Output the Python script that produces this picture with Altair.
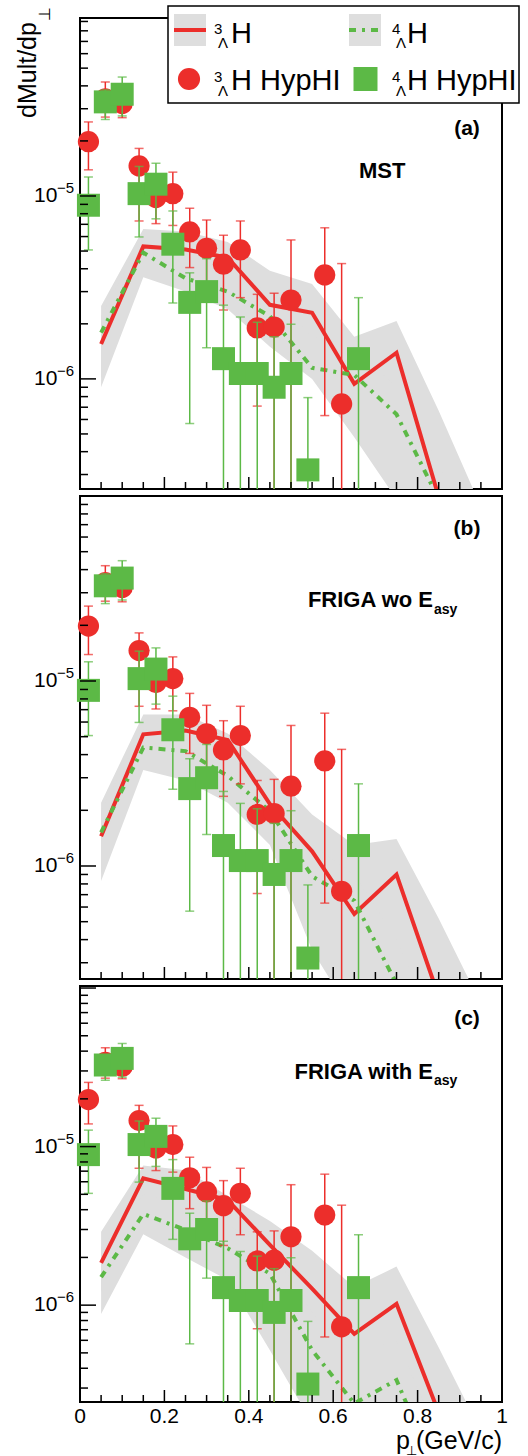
import altair as alt
import pandas as pd

FONT = "Liberation Sans"
RED = "#ec2e2b"
GREEN = "#5cb946"
BAND = "#dedede"

# ---- HypHI measurements (identical in all three panels) ----
h3_x = [0.02, 0.06, 0.10, 0.14, 0.18, 0.22, 0.26, 0.30, 0.34, 0.38, 0.42, 0.46, 0.50, 0.58, 0.62]
h3_y = [1.98e-5, 3.4e-5, 3.2e-5, 1.46e-5, 9.8e-6, 1.03e-5, 6.36e-6, 5.18e-6, 4.24e-6, 5.07e-6,
        1.9e-6, 1.92e-6, 2.7e-6, 3.7e-6, 7.3e-7]
h3_hi = [2.54e-5, 4.2e-5, 4.0e-5, 1.82e-5, 1.3e-5, 1.35e-5, 8.57e-6, 7.39e-6, 6.1e-6, 7.3e-6,
         2.9e-6, 2.94e-6, 5.75e-6, 6.7e-6, 4.27e-6]
h3_lo = [1.39e-5, 2.7e-5, 2.68e-5, 7.3e-6, 7.06e-6, 6.9e-6, 4.06e-6, 3.3e-6, 2.38e-6, 2.78e-6,
         7.1e-7, 1e-8, 1e-8, 6.3e-7, 1e-8]

h4_x = [0.02, 0.06, 0.10, 0.14, 0.18, 0.22, 0.26, 0.30, 0.34, 0.38, 0.42, 0.46, 0.50, 0.54, 0.66]
h4_y = [8.9e-6, 3.27e-5, 3.6e-5, 1.03e-5, 1.16e-5, 5.45e-6, 2.62e-6, 3.0e-6, 1.29e-6, 1.07e-6,
        1.07e-6, 9.0e-7, 1.07e-6, 3.18e-7, 1.29e-6]
h4_hi = [1.27e-5, 3.8e-5, 4.47e-5, 1.45e-5, 1.51e-5, 8.28e-6, 3.8e-6, 4.54e-6, 2.53e-6, 2.18e-6,
         2.04e-6, 1.7e-6, 1.99e-6, 7.9e-7, 2.78e-6]
h4_lo = [5.07e-6, 2.62e-5, 2.74e-5, 5.97e-6, 7.5e-6, 2.6e-6, 5.7e-7, 1.48e-6, 1e-8, 1e-8,
         1e-8, 1e-8, 1e-8, 1e-8, 1e-8]

# ---- model curves ----
model_x = [0.05, 0.15, 0.25, 0.35, 0.45, 0.55, 0.65, 0.75, 0.85]
mst_h3 = [1.55e-6, 5.3e-6, 5.1e-6, 4.6e-6, 2.54e-6, 2.3e-6, 9.4e-7, 1.39e-6, 2.26e-7]
mst_h4 = [1.79e-6, 4.9e-6, 3.55e-6, 3.0e-6, 2.2e-6, 1.15e-6, 1.05e-6, 6.4e-7, 2.2e-7]
fwo_h3 = [1.45e-6, 5.15e-6, 5.4e-6, 4.8e-6, 2.16e-6, 1.2e-6, 5.5e-7, 9.0e-7, 1.97e-7]
fwo_h4 = [1.52e-6, 4.37e-6, 4.18e-6, 3.07e-6, 1.98e-6, 8.8e-7, 6.5e-7, 2.3e-7, 6e-8]
fwi_h3 = [1.85e-6, 6.3e-6, 5.4e-6, 4.6e-6, 2.4e-6, 1.27e-6, 6.6e-7, 1.02e-6, 2.1e-7]
fwi_h4 = [1.5e-6, 3.76e-6, 2.98e-6, 2.28e-6, 1.58e-6, 5.2e-7, 2.4e-7, 3.37e-7, 8e-8]

# ---- model uncertainty bands ----
band_x = [0.05, 0.15, 0.25, 0.35, 0.45, 0.55, 0.65, 0.75, 0.85, 0.95]
mst_h3_hi = [2.5e-6, 6.6e-6, 6.4e-6, 5.6e-6, 3.9e-6, 3.3e-6, 1.7e-6, 2.07e-6, 6.7e-7, 2.0e-7]
mst_h3_lo = [1.0e-6, 4.0e-6, 3.8e-6, 3.4e-6, 1.7e-6, 1.5e-6, 6.0e-7, 6.0e-7, 2.0e-7, 6e-8]
mst_h4_hi = [2.2e-6, 6.0e-6, 4.6e-6, 3.9e-6, 3.0e-6, 1.7e-6, 1.5e-6, 9.0e-7, 3.5e-7, 1.0e-7]
mst_h4_lo = [9.0e-7, 3.6e-6, 3.0e-6, 2.4e-6, 1.5e-6, 1.0e-6, 4.8e-7, 2.2e-7, 6e-8, 2e-8]
fwo_h3_hi = [2.2e-6, 6.6e-6, 6.6e-6, 5.2e-6, 3.3e-6, 1.9e-6, 1.3e-6, 1.4e-6, 5.2e-7, 1.8e-7]
fwo_h3_lo = [9.0e-7, 3.8e-6, 3.7e-6, 3.3e-6, 1.4e-6, 7.0e-7, 2.0e-7, 1.5e-7, 6e-8, 3e-8]
fwo_h4_hi = [2.0e-6, 5.5e-6, 5.0e-6, 4.0e-6, 2.6e-6, 1.3e-6, 9.0e-7, 4.0e-7, 1.2e-7, 4e-8]
fwo_h4_lo = [8.3e-7, 3.3e-6, 2.9e-6, 2.2e-6, 1.3e-6, 3.5e-7, 1.5e-7, 1.0e-7, 3e-8, 1e-8]
fwi_h3_hi = [2.9e-6, 7.6e-6, 7.1e-6, 4.9e-6, 3.4e-6, 2.2e-6, 1.3e-6, 1.75e-6, 5.4e-7, 1.6e-7]
fwi_h3_lo = [1.2e-6, 4.5e-6, 3.8e-6, 3.0e-6, 1.5e-6, 7.0e-7, 3.0e-7, 2.0e-7, 8e-8, 3e-8]
fwi_h4_hi = [2.3e-6, 5.0e-6, 4.2e-6, 3.2e-6, 2.3e-6, 9.0e-7, 5.0e-7, 6.0e-7, 1.5e-7, 4e-8]
fwi_h4_lo = [8.8e-7, 2.8e-6, 2.0e-6, 1.44e-6, 5.2e-7, 1.8e-7, 1.0e-7, 1.2e-7, 3e-8, 1e-8]

# ---- tick values and labels ----
x_major = [0.2, 0.4, 0.6, 0.8]
x_minor = [0.05, 0.1, 0.15, 0.25, 0.3, 0.35, 0.45, 0.5, 0.55, 0.65, 0.7, 0.75, 0.85, 0.9, 0.95]
x_label_vals = [0, 0.2, 0.4, 0.6, 0.8, 1]
x_label_text = ["0", "0.2", "0.4", "0.6", "0.8", "1"]
y_major = [1e-6, 1e-5, 1e-4]
y_minor = [m * d for d in (1e-7, 1e-6, 1e-5) for m in (2, 3, 4, 5, 6, 7, 8, 9)]
y_label_vals = [1e-5, 1e-6]
y_label_base = ["10", "10"]
y_label_exp = ["\u22125", "\u22126"]

x_scale = alt.Scale(domain=[0, 1], nice=False, zero=False)


def X():
    return alt.X("x:Q", scale=x_scale, axis=None)


def txt(s):
    return pd.DataFrame({"t": [s]})


def label(s, x, y, size, weight="normal", align="left", baseline="alphabetic", angle=0):
    return alt.Chart(txt(s)).mark_text(
        font=FONT, fontSize=size, fontWeight=weight, align=align,
        baseline=baseline, angle=angle, color="black"
    ).encode(text="t:N", x=alt.value(x), y=alt.value(y))


def panel(h, ydom, line3, line4, b3lo, b3hi, b4lo, b4hi, tag, tag_y, extra):
    ys = alt.Scale(type="log", domain=ydom, nice=False)

    def Y(f):
        return alt.Y(f + ":Q", scale=ys, axis=None)

    band3 = pd.DataFrame({"x": band_x, "lo": b3lo, "hi": b3hi})
    band4 = pd.DataFrame({"x": band_x, "lo": b4lo, "hi": b4hi})
    l3 = pd.DataFrame({"x": model_x, "y": line3})
    l4 = pd.DataFrame({"x": model_x, "y": line4})
    d3 = pd.DataFrame({"x": h3_x, "y": h3_y, "lo": h3_lo, "hi": h3_hi})
    d4 = pd.DataFrame({"x": h4_x, "y": h4_y, "lo": h4_lo, "hi": h4_hi})

    def caps(d, col, field):
        return alt.Chart(d).mark_tick(color=col, orient="horizontal", size=9, thickness=1.5,
                                      clip=True).encode(x=X(), y=Y(field))

    layers = [
        alt.Chart(band3).mark_area(color=BAND, opacity=1, clip=True).encode(
            x=X(), y=Y("lo"), y2="hi:Q"),
        alt.Chart(band4).mark_area(color=BAND, opacity=1, clip=True).encode(
            x=X(), y=Y("lo"), y2="hi:Q"),
        alt.Chart(l3).mark_line(color=RED, strokeWidth=4, clip=True).encode(x=X(), y=Y("y")),
        alt.Chart(l4).mark_line(color=GREEN, strokeWidth=4, strokeDash=[7, 6, 3, 6],
                                clip=True).encode(x=X(), y=Y("y")),
        # 3-Lambda-H data
        alt.Chart(d3).mark_rule(color=RED, strokeWidth=1.5, clip=True).encode(
            x=X(), y=Y("lo"), y2="hi:Q"),
        caps(d3, RED, "hi"), caps(d3, RED, "lo"),
        alt.Chart(d3).mark_circle(color=RED, size=450, opacity=1).encode(x=X(), y=Y("y")),
        # 4-Lambda-H data
        alt.Chart(d4).mark_rule(color=GREEN, strokeWidth=1.5, clip=True).encode(
            x=X(), y=Y("lo"), y2="hi:Q"),
        caps(d4, GREEN, "hi"), caps(d4, GREEN, "lo"),
        alt.Chart(d4).mark_square(color=GREEN, size=529, opacity=1).encode(x=X(), y=Y("y")),
        # inner ticks
        alt.Chart(pd.DataFrame({"x": x_major})).mark_rule(color="black", strokeWidth=1.5).encode(
            x=X(), y=alt.value(h), y2=alt.value(h - 12)),
        alt.Chart(pd.DataFrame({"x": x_minor})).mark_rule(color="black", strokeWidth=1.5).encode(
            x=X(), y=alt.value(h), y2=alt.value(h - 7)),
        alt.Chart(pd.DataFrame({"v": y_major})).mark_rule(color="black", strokeWidth=1.5,
                                                          clip=True).encode(
            y=Y("v"), x=alt.value(0), x2=alt.value(16)),
        alt.Chart(pd.DataFrame({"v": y_minor})).mark_rule(color="black", strokeWidth=1.5,
                                                          clip=True).encode(
            y=Y("v"), x=alt.value(0), x2=alt.value(8)),
        # decade labels 10^-5, 10^-6
        alt.Chart(pd.DataFrame({"v": y_label_vals, "b": y_label_base})).mark_text(
            font=FONT, fontSize=21, align="left", baseline="middle", color="black").encode(
            text="b:N", y=Y("v"), x=alt.value(-46)),
        alt.Chart(pd.DataFrame({"v": y_label_vals, "e": y_label_exp})).mark_text(
            font=FONT, fontSize=15, align="left", baseline="middle", dy=-8, color="black").encode(
            text="e:N", y=Y("v"), x=alt.value(-23)),
        label(tag, 387, tag_y, 21, weight="bold", align="center", baseline="middle"),
    ]
    layers += extra
    return alt.layer(*layers).properties(width=422, height=h)


# ---- legend, axis titles and model names ----
legend = [
    alt.Chart(txt("")).mark_rect(fill="white", stroke="black", strokeWidth=1.5).encode(
        x=alt.value(88), x2=alt.value(439), y=alt.value(-12), y2=alt.value(85)),
    alt.Chart(txt("")).mark_rect(fill=BAND).encode(
        x=alt.value(94), x2=alt.value(126), y=alt.value(-4), y2=alt.value(28)),
    alt.Chart(txt("")).mark_rect(fill=BAND).encode(
        x=alt.value(269), x2=alt.value(301), y=alt.value(-4), y2=alt.value(28)),
    alt.Chart(txt("")).mark_rule(color=RED, strokeWidth=4).encode(
        x=alt.value(94), x2=alt.value(126), y=alt.value(12)),
    alt.Chart(txt("")).mark_rule(color=GREEN, strokeWidth=4, strokeDash=[7, 6, 3, 6]).encode(
        x=alt.value(269), x2=alt.value(301), y=alt.value(12)),
    alt.Chart(txt("")).mark_circle(color=RED, size=490, opacity=1).encode(
        x=alt.value(109), y=alt.value(61)),
    alt.Chart(txt("")).mark_square(color=GREEN, size=576, opacity=1).encode(
        x=alt.value(285.5), y=alt.value(61)),
    label("3", 134, 16, 15), label("\u039b", 138, 30, 15), label("H", 151, 25, 29),
    label("4", 312, 16, 15), label("\u039b", 316, 30, 15), label("H", 327, 25, 29),
    label("3", 134, 64, 15), label("\u039b", 138, 78, 15), label("H HypHI", 151, 72, 29),
    label("4", 312, 64, 15), label("\u039b", 316, 78, 15), label("H HypHI", 327, 72, 29),
]

ytitle = [
    label("dMult/dp", -44, 100, 25, angle=270),
    label("\u22a5", -30, 3, 16, angle=270),
]

# keeps the page origin fixed to the left and top of the figure
anchor = [
    alt.Chart(txt("")).mark_rule(opacity=0).encode(
        x=alt.value(-79), x2=alt.value(-78), y=alt.value(-17), y2=alt.value(-16)),
]

xlabels = [
    alt.Chart(pd.DataFrame({"x": x_label_vals, "t": x_label_text})).mark_text(
        font=FONT, fontSize=21, align="center", baseline="alphabetic", color="black").encode(
        x=X(), y=alt.value(437), text="t:N"),
    label("(GeV/c)", 422, 463, 25, align="right"),
    label("p", 330, 463, 25, align="right"),
    label("\u22a5", 331, 469, 13, align="center"),
]

pa = panel(471, [2.5e-7, 9.4e-5], mst_h3, mst_h4, mst_h3_lo, mst_h3_hi, mst_h4_lo, mst_h4_hi,
           "(a)", 111,
           [label("MST", 279, 160, 22, weight="bold")] + legend + ytitle + anchor)

pb = panel(483, [2.45e-7, 1.0e-4], fwo_h3, fwo_h4, fwo_h3_lo, fwo_h3_hi, fwo_h4_lo, fwo_h4_hi,
           "(b)", 33,
           [label("FRIGA wo E", 353, 111, 22, weight="bold", align="right"),
            label("asy", 354, 118, 14, weight="bold")])

pc = panel(416, [2.45e-7, 1.03e-4], fwi_h3, fwi_h4, fwi_h3_lo, fwi_h3_hi, fwi_h4_lo, fwi_h4_hi,
           "(c)", 33,
           [label("FRIGA with E", 353, 93, 22, weight="bold", align="right"),
            label("asy", 354, 99, 14, weight="bold")] + xlabels)

chart = alt.vconcat(pa, pb, pc, spacing=4).properties(padding=0).configure_view(
    stroke="black", strokeWidth=2)

chart.save("out.html", embed_options={"renderer": "svg", "actions": False})
